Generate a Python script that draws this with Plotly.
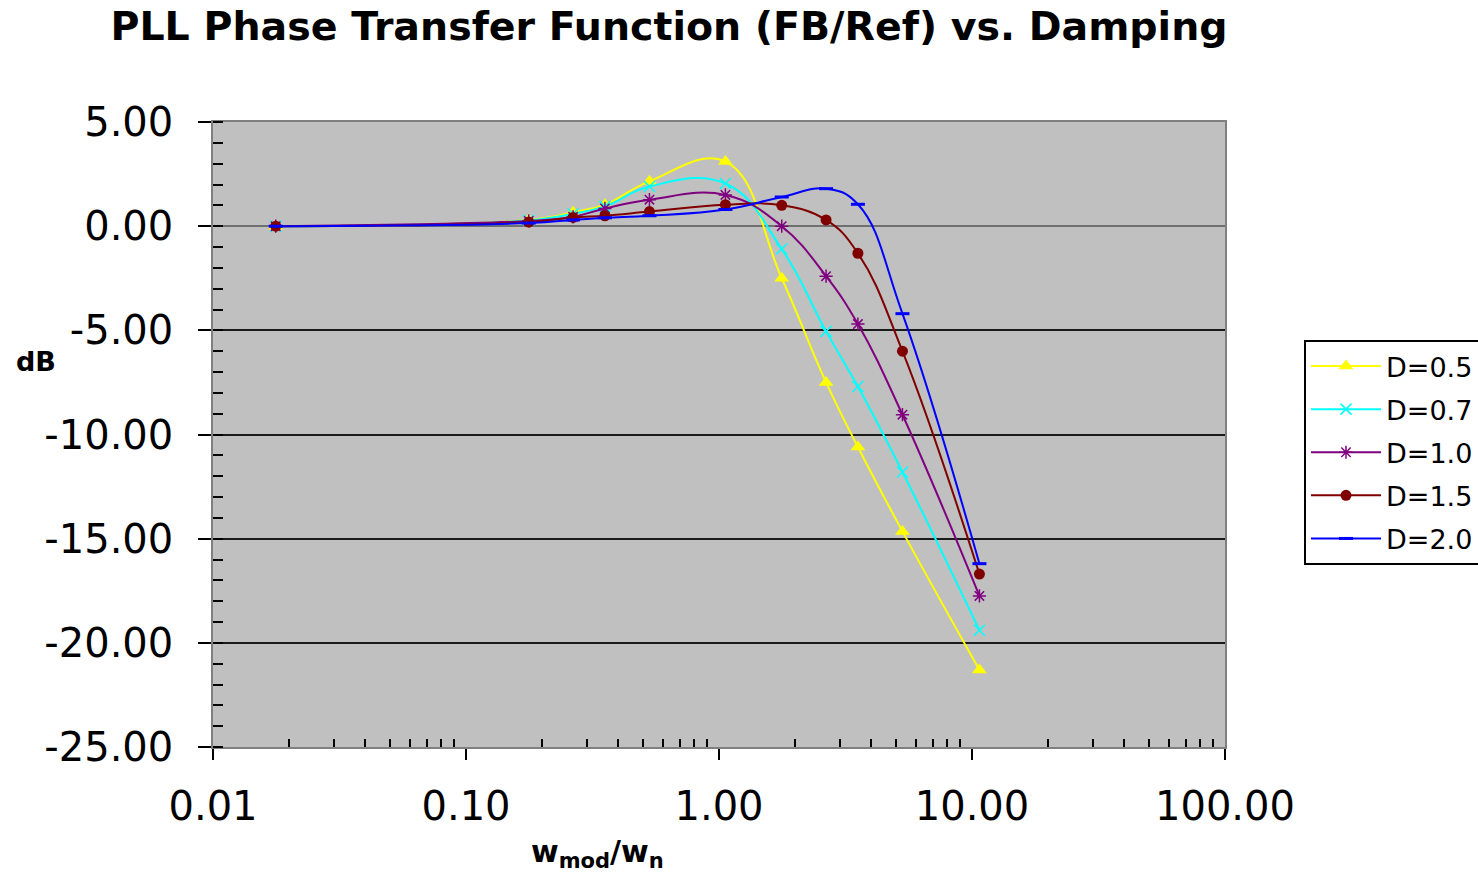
import plotly.graph_objects as go

# ---- data ----
w_ratio = [0.0177, 0.177, 0.265, 0.354, 0.531, 1.06, 1.77, 2.65, 3.54, 5.31, 10.7]

series_names = ["D=0.5", "D=0.7", "D=1.0", "D=1.5", "D=2.0"]
db_d05 = [0.0, 0.30, 0.67, 1.03, 2.15, 3.10, -2.50, -7.50, -10.60, -14.65, -21.30]
db_d07 = [0.0, 0.28, 0.60, 0.95, 1.90, 2.05, -1.10, -5.05, -7.70, -11.80, -19.40]
db_d10 = [0.0, 0.25, 0.45, 0.85, 1.27, 1.50, 0.00, -2.40, -4.70, -9.05, -17.75]
db_d15 = [0.0, 0.20, 0.42, 0.50, 0.70, 1.03, 1.00, 0.30, -1.30, -6.00, -16.70]
db_d20 = [0.0, 0.15, 0.30, 0.40, 0.50, 0.80, 1.40, 1.80, 1.05, -4.20, -16.20]

x_tickvals = [0.01, 0.1, 1, 10, 100]
x_ticktext = ["0.01", "0.10", "1.00", "10.00", "100.00"]
y_tickvals = [5, 0, -5, -10, -15, -20, -25]
y_ticktext = ["5.00", "0.00", "-5.00", "-10.00", "-15.00", "-20.00", "-25.00"]

# ---- styles ----
styles = [
    dict(color="#FFFF00", symbol="triangle-up", size=13, lw=0),
    dict(color="#00FFFF", symbol="x-thin-open", size=11, lw=1.5),
    dict(color="#800080", symbol="asterisk-open", size=11, lw=1.5),
    dict(color="#800000", symbol="circle", size=11, lw=0),
    dict(color="#0000FF", symbol="line-ew-open", size=10, lw=3),
]
series = [db_d05, db_d07, db_d10, db_d15, db_d20]

fig = go.Figure()
for i, (name, ys, st) in enumerate(zip(series_names, series, styles)):
    fig.add_trace(go.Scatter(
        x=w_ratio, y=ys, name=name, mode="lines+markers",
        line=dict(color=st["color"], width=2, shape="spline", smoothing=1.2),
        marker=dict(symbol=st["symbol"], size=st["size"], color=st["color"],
                    line=dict(color=st["color"], width=st["lw"])),
        legendgroup=name,
    ))

minor_x = [m * 10 ** e for e in (-2, -1, 0, 1) for m in range(2, 10)]

fig.update_xaxes(
    type="log", range=[-2, 2],
    tickmode="array", tickvals=x_tickvals, ticktext=x_ticktext,
    ticks="outside", ticklen=11, tickwidth=1.5, tickcolor="#000000",
    ticklabelstandoff=12,
    tickfont=dict(family="DejaVu Sans", size=40, color="#000000"),
    showgrid=False, zeroline=False,
    showline=True, linecolor="#808080", linewidth=1.5, mirror=True,
    minor=dict(tickmode="array", tickvals=minor_x, ticks="inside", ticklen=8,
               tickwidth=1.5, tickcolor="#000000", showgrid=False),
)
fig.update_yaxes(
    range=[-25, 5],
    tickmode="array", tickvals=y_tickvals, ticktext=y_ticktext,
    ticks="outside", ticklen=13, tickwidth=1.5, tickcolor="#000000",
    ticklabelstandoff=17,
    tickfont=dict(family="DejaVu Sans", size=40, color="#000000"),
    showgrid=True, gridcolor="#1a1a1a", gridwidth=1.5,
    zeroline=True, zerolinecolor="#707070", zerolinewidth=2,
    showline=True, linecolor="#808080", linewidth=1.5, mirror=True,
    minor=dict(tickmode="linear", tick0=0, dtick=1, ticks="inside", ticklen=10,
               tickwidth=1.5, tickcolor="#000000", showgrid=False),
)

fig.update_layout(
    width=1478, height=877,
    margin=dict(l=213, r=253, t=122, b=130, autoexpand=False),
    paper_bgcolor="#FFFFFF", plot_bgcolor="#C0C0C0",
    title=dict(text="<b>PLL Phase Transfer Function (FB/Ref) vs. Damping</b>",
               font=dict(family="DejaVu Sans", size=39.5, color="#000000"),
               x=669 / 1478, xanchor="center", xref="container",
               y=1 - 26 / 877, yanchor="middle", yref="container"),
    showlegend=True,
    legend=dict(x=(1304 - 213) / 1012, xanchor="left",
                y=(747 - 340) / 625, yanchor="top",
                bgcolor="#FFFFFF", bordercolor="#000000", borderwidth=2,
                font=dict(family="DejaVu Sans", size=27, color="#000000"),
                itemwidth=70, traceorder="grouped", tracegroupgap=5),
    annotations=[
        dict(text="<b>dB</b>", x=(36 - 213) / 1012, y=(747 - 361) / 625,
             xref="paper", yref="paper", showarrow=False,
             xanchor="center", yanchor="middle",
             font=dict(family="DejaVu Sans", size=27, color="#000000")),
        dict(text="<b>w<sub>mod</sub>/w<sub>n</sub></b>",
             x=(597 - 213) / 1012, y=(747 - 875) / 625,
             xref="paper", yref="paper", showarrow=False,
             xanchor="center", yanchor="bottom",
             font=dict(family="DejaVu Sans", size=30, color="#000000")),
    ],
)

fig.write_html("out.html")
